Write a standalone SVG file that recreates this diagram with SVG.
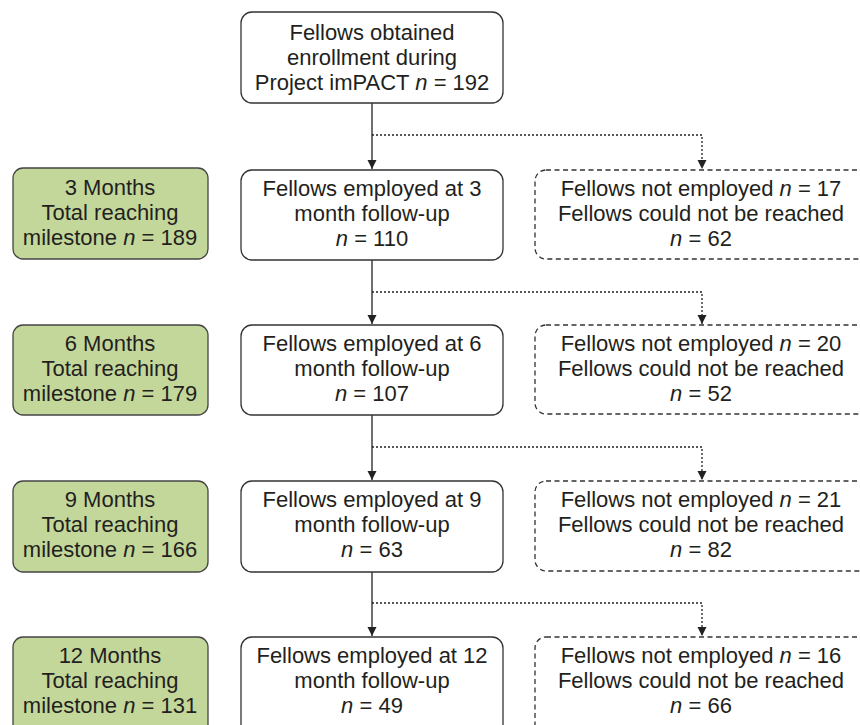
<svg xmlns="http://www.w3.org/2000/svg" width="860" height="725" viewBox="0 0 860 725">
<defs>
<marker id="ah" markerWidth="10" markerHeight="10" refX="9" refY="5" orient="auto" markerUnits="userSpaceOnUse" viewBox="0 0 10 10">
<path d="M0,0.5 L9,5 L0,9.5 Z" fill="#222"/>
</marker>
<style>
.box{fill:#fff;stroke:#333;stroke-width:1.3}
.green{fill:#c4d79b;stroke:#444;stroke-width:1.3}
.dash{fill:#fff;stroke:#333;stroke-width:1.3;stroke-dasharray:5 3.5}
text{font-family:"Liberation Sans",Arial,sans-serif;font-size:22px;fill:#231f20;text-anchor:middle}
.solid{stroke:#222;stroke-width:1.3;fill:none}
.dot{stroke:#222;stroke-width:1.3;fill:none;stroke-dasharray:2 2}
.i{font-style:italic}
</style>
</defs>
<rect width="860" height="725" fill="#fff"/>

<g id="connectors">
<line class="solid" x1="372" y1="103" x2="372" y2="169" marker-end="url(#ah)"/>
<polyline class="dot" points="372,135 702,135 702,169" marker-end="url(#ah)"/>
<line class="solid" x1="372" y1="260" x2="372" y2="324" marker-end="url(#ah)"/>
<polyline class="dot" points="372,292 702,292 702,324" marker-end="url(#ah)"/>
<line class="solid" x1="372" y1="415" x2="372" y2="480" marker-end="url(#ah)"/>
<polyline class="dot" points="372,447 702,447 702,480" marker-end="url(#ah)"/>
<line class="solid" x1="372" y1="572" x2="372" y2="636" marker-end="url(#ah)"/>
<polyline class="dot" points="372,603 702,603 702,636" marker-end="url(#ah)"/>
</g>

<g id="start">
<rect class="box" x="241" y="12" width="262" height="91" rx="11"/>
<text x="372" y="40">Fellows obtained<tspan x="372" dy="25">enrollment during</tspan><tspan x="372" dy="25">Project imPACT <tspan class="i">n</tspan> = 192</tspan></text>
</g>

<g id="m3">
<rect class="green" x="13" y="168" width="195" height="91" rx="10"/>
<text x="110" y="195">3 Months<tspan x="110" dy="25">Total reaching</tspan><tspan x="110" dy="25">milestone <tspan class="i">n</tspan> = 189</tspan></text>
</g>
<g id="emp3">
<rect class="box" x="241" y="170" width="262" height="90" rx="11"/>
<text x="372" y="196">Fellows employed at 3<tspan x="372" dy="25">month follow-up</tspan><tspan x="372" dy="25"><tspan class="i">n</tspan> = 110</tspan></text>
</g>
<g id="not3">
<rect class="dash" x="535" y="170" width="340" height="89" rx="11"/>
<text x="701" y="196">Fellows not employed <tspan class="i">n</tspan> = 17<tspan x="701" dy="25">Fellows could not be reached</tspan><tspan x="701" dy="25"><tspan class="i">n</tspan> = 62</tspan></text>
</g>

<g id="m6">
<rect class="green" x="13" y="325" width="195" height="90" rx="10"/>
<text x="110" y="351">6 Months<tspan x="110" dy="25">Total reaching</tspan><tspan x="110" dy="25">milestone <tspan class="i">n</tspan> = 179</tspan></text>
</g>
<g id="emp6">
<rect class="box" x="241" y="325" width="262" height="90" rx="11"/>
<text x="372" y="351">Fellows employed at 6<tspan x="372" dy="25">month follow-up</tspan><tspan x="372" dy="25"><tspan class="i">n</tspan> = 107</tspan></text>
</g>
<g id="not6">
<rect class="dash" x="535" y="325" width="340" height="89" rx="11"/>
<text x="701" y="351">Fellows not employed <tspan class="i">n</tspan> = 20<tspan x="701" dy="25">Fellows could not be reached</tspan><tspan x="701" dy="25"><tspan class="i">n</tspan> = 52</tspan></text>
</g>

<g id="m9">
<rect class="green" x="13" y="481" width="195" height="91" rx="10"/>
<text x="110" y="507">9 Months<tspan x="110" dy="25">Total reaching</tspan><tspan x="110" dy="25">milestone <tspan class="i">n</tspan> = 166</tspan></text>
</g>
<g id="emp9">
<rect class="box" x="241" y="481" width="262" height="91" rx="11"/>
<text x="372" y="507">Fellows employed at 9<tspan x="372" dy="25">month follow-up</tspan><tspan x="372" dy="25"><tspan class="i">n</tspan> = 63</tspan></text>
</g>
<g id="not9">
<rect class="dash" x="535" y="481" width="340" height="90" rx="11"/>
<text x="701" y="507">Fellows not employed <tspan class="i">n</tspan> = 21<tspan x="701" dy="25">Fellows could not be reached</tspan><tspan x="701" dy="25"><tspan class="i">n</tspan> = 82</tspan></text>
</g>

<g id="m12">
<rect class="green" x="13" y="637" width="195" height="100" rx="10"/>
<text x="110" y="663">12 Months<tspan x="110" dy="25">Total reaching</tspan><tspan x="110" dy="25">milestone <tspan class="i">n</tspan> = 131</tspan></text>
</g>
<g id="emp12">
<rect class="box" x="241" y="637" width="262" height="100" rx="11"/>
<text x="372" y="663">Fellows employed at 12<tspan x="372" dy="25">month follow-up</tspan><tspan x="372" dy="25"><tspan class="i">n</tspan> = 49</tspan></text>
</g>
<g id="not12">
<rect class="dash" x="535" y="637" width="340" height="100" rx="11"/>
<text x="701" y="663">Fellows not employed <tspan class="i">n</tspan> = 16<tspan x="701" dy="25">Fellows could not be reached</tspan><tspan x="701" dy="25"><tspan class="i">n</tspan> = 66</tspan></text>
</g>
</svg>
